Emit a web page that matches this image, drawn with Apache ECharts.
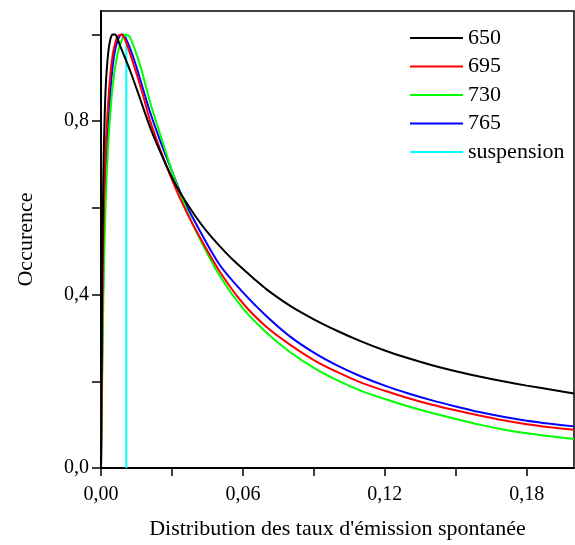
<!DOCTYPE html>
<html>
<head>
<meta charset="utf-8">
<script src="https://cdn.jsdelivr.net/npm/echarts@6/dist/echarts.min.js"></script>
<style>html,body{margin:0;padding:0;background:#fff}#c{width:575px;height:545px}</style>
</head>
<body>
<div id="c"></div>
<script>
// ---- data ----
const seriesNames = ['650', '695', '730', '765', 'suspension'];
const seriesColors = ['#000000', '#ff0000', '#00ff00', '#0000ff', '#00ffff'];

const x650 = [0, 0.0002, 0.0005, 0.001, 0.0015, 0.002, 0.003, 0.004, 0.005, 0.006, 0.007, 0.008, 0.01, 0.0124, 0.016, 0.0208, 0.025, 0.03, 0.034, 0.04, 0.045, 0.05, 0.056, 0.065, 0.07, 0.08, 0.09, 0.1, 0.11, 0.12, 0.13, 0.14, 0.15, 0.16, 0.17, 0.18, 0.19, 0.2];
const y650 = [0, 0.2, 0.45, 0.68, 0.8, 0.88, 0.955, 0.99, 1.0, 1.0, 0.99, 0.975, 0.948, 0.915, 0.86, 0.785, 0.73, 0.67, 0.63, 0.58, 0.544, 0.513, 0.479, 0.435, 0.412, 0.374, 0.343, 0.316, 0.292, 0.271, 0.253, 0.237, 0.223, 0.211, 0.2, 0.19, 0.181, 0.172];

const x695 = [0, 0.0003, 0.0007, 0.0012, 0.002, 0.003, 0.004, 0.005, 0.006, 0.007, 0.0085, 0.01, 0.012, 0.015, 0.018, 0.0208, 0.025, 0.03, 0.034, 0.04, 0.05, 0.06, 0.07, 0.08, 0.09, 0.1, 0.11, 0.12, 0.13, 0.14, 0.15, 0.16, 0.17, 0.18, 0.19, 0.2];
const y695 = [0, 0.2, 0.42, 0.6, 0.74, 0.84, 0.91, 0.955, 0.98, 0.995, 1.0, 0.99, 0.96, 0.91, 0.855, 0.8, 0.735, 0.665, 0.615, 0.55, 0.455, 0.38, 0.325, 0.284, 0.249, 0.221, 0.197, 0.178, 0.161, 0.146, 0.133, 0.121, 0.11, 0.101, 0.094, 0.088];

const x730 = [0, 0.0005, 0.001, 0.002, 0.0032, 0.005, 0.007, 0.009, 0.0105, 0.012, 0.014, 0.017, 0.0208, 0.025, 0.03, 0.034, 0.04, 0.05, 0.06, 0.07, 0.08, 0.09, 0.1, 0.11, 0.12, 0.13, 0.14, 0.15, 0.16, 0.17, 0.18, 0.19, 0.2];
const y730 = [0, 0.2, 0.4, 0.62, 0.76, 0.885, 0.955, 0.99, 1.0, 0.995, 0.97, 0.92, 0.843, 0.77, 0.685, 0.625, 0.548, 0.445, 0.368, 0.312, 0.267, 0.231, 0.202, 0.178, 0.159, 0.142, 0.127, 0.113, 0.1, 0.089, 0.08, 0.073, 0.067];

const x765 = [0, 0.0004, 0.0009, 0.0015, 0.0028, 0.004, 0.005, 0.006, 0.007, 0.008, 0.009, 0.0105, 0.0125, 0.015, 0.018, 0.0208, 0.025, 0.03, 0.034, 0.04, 0.05, 0.06, 0.07, 0.08, 0.09, 0.1, 0.11, 0.12, 0.13, 0.14, 0.15, 0.16, 0.17, 0.18, 0.19, 0.2];
const y765 = [0, 0.2, 0.42, 0.6, 0.76, 0.87, 0.93, 0.965, 0.985, 0.997, 1.0, 0.99, 0.965, 0.925, 0.87, 0.82, 0.755, 0.685, 0.63, 0.565, 0.47, 0.405, 0.35, 0.303, 0.266, 0.236, 0.211, 0.19, 0.172, 0.156, 0.142, 0.129, 0.118, 0.109, 0.102, 0.096];

const xSusp = [0.0107, 0.0107];
const ySusp = [0, 1.0];

const xTicks = [0, 0.03, 0.06, 0.09, 0.12, 0.15, 0.18];
const xTickLabels = [0, 0.06, 0.12, 0.18];
const yTicks = [0, 0.2, 0.4, 0.6, 0.8, 1.0];
const yTickLabels = [0, 0.4, 0.8];

const xTitle = "Distribution des taux d'émission spontanée";
const yTitle = 'Occurence';

// ---- build ----
const zip = (xs, ys) => xs.map((x, i) => [x, ys[i]]);
const allData = [zip(x650, y650), zip(x695, y695), zip(x730, y730), zip(x765, y765), zip(xSusp, ySusp)];

const FONT = '"Liberation Serif", "Times New Roman", serif';

const chart = echarts.init(document.getElementById('c'), null, { renderer: 'canvas' });
chart.setOption({
  animation: false,
  backgroundColor: '#fff',
  grid: {
    left: 101, right: 1, top: 11, bottom: 73,
    show: true, borderColor: '#000', borderWidth: 1.5, backgroundColor: 'transparent'
  },
  legend: {
    orient: 'vertical',
    left: 405, top: 22,
    itemWidth: 53, itemHeight: 22, itemGap: 6.5,
    icon: 'path://M0,9 L53,9 L53,11 L0,11 Z',
    textStyle: { fontFamily: FONT, fontSize: 22, color: '#000', lineHeight: 22 },
    data: seriesNames
  },
  xAxis: {
    type: 'value', min: 0, max: 0.2,
    name: xTitle, nameLocation: 'middle', nameGap: 50,
    nameTextStyle: { fontFamily: FONT, fontSize: 22, color: '#000' },
    axisLine: { show: true, lineStyle: { color: '#000', width: 2 } },
    axisTick: { show: true, inside: false, length: 8, lineStyle: { color: '#000', width: 1.5 }, customValues: xTicks },
    axisLabel: {
      margin: 17, fontFamily: FONT, fontSize: 20, color: '#000',
      customValues: xTickLabels,
      formatter: v => v.toFixed(2).replace('.', ',')
    },
    splitLine: { show: false }
  },
  yAxis: {
    type: 'value', min: 0, max: 1.054,
    name: yTitle, nameLocation: 'middle', nameGap: 64, nameRotate: 90,
    nameTextStyle: { fontFamily: FONT, fontSize: 22, color: '#000' },
    axisLine: { show: true, lineStyle: { color: '#000', width: 2 } },
    axisTick: { show: true, inside: false, length: 9, lineStyle: { color: '#000', width: 1.5 }, customValues: yTicks },
    axisLabel: {
      margin: 12, fontFamily: FONT, fontSize: 20, color: '#000',
      customValues: yTickLabels,
      formatter: v => v.toFixed(1).replace('.', ',')
    },
    splitLine: { show: false }
  },
  series: seriesNames.map((n, i) => ({
    name: n,
    type: 'line',
    data: allData[i],
    smooth: i < 4 ? 0.3 : false,
    showSymbol: false,
    symbol: 'none',
    color: seriesColors[i],
    lineStyle: { color: seriesColors[i], width: 2 },
    z: 5 - i
  }))
});
</script>
</body>
</html>
